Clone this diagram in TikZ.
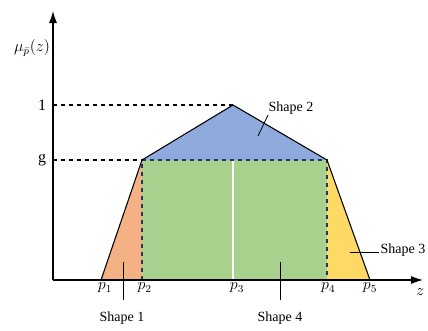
\documentclass[tikz,border=0pt]{standalone}
\usepackage{fontspec}
\setmainfont{Liberation Serif}
\usepackage{amsmath}
\usetikzlibrary{arrows.meta,positioning}
\definecolor{shOne}{HTML}{F4B183}
\definecolor{shTwo}{HTML}{8FAADC}
\definecolor{shThree}{HTML}{FFD966}
\definecolor{shFour}{HTML}{A9D18E}
\definecolor{shEdge}{HTML}{203864}
\tikzset{
  axisline/.style={-{Latex[length=9pt,width=6pt]}, thick, black},
  outline/.style={thick, black, line join=round},
  guide/.style={thick, black, dashed},
  innerguide/.style={thick, shEdge, dashed},
  leader/.style={black, semithick},
  tick/.style={font=\large, inner sep=1pt},
  tag/.style={font=\fontsize{10.5}{12}\selectfont, inner sep=1pt}
}
\begin{document}
\begin{tikzpicture}[x=0.75pt,y=0.75pt]
  \useasboundingbox (0,0) rectangle (428,330);
  % key points
  \coordinate (o) at (53,50);
  \coordinate (p1) at (101,50);
  \coordinate (p2) at (142,50);
  \coordinate (p3) at (233,50);
  \coordinate (p4) at (327,50);
  \coordinate (p5) at (370,50);
  \coordinate (g2) at (142,170);
  \coordinate (g3) at (233,170);
  \coordinate (g4) at (327,170);
  \coordinate (top) at (233,225);
  \coordinate (yg) at (53,170);
  \coordinate (y1) at (53,225);
  % shapes
  \fill[shFour] (p2) rectangle (g4);
  \draw[white, thick] (p3) -- (g3);
  \fill[shTwo] (g2) -- (top) -- (g4) -- cycle;
  \fill[shOne] (p1) -- (g2) -- (p2) -- cycle;
  \fill[shThree] (g4) -- (p5) -- (p4) -- cycle;
  \draw[innerguide] (p2) -- (g2) -- (g4) -- (p4);
  \draw[guide] (y1) -- (top);
  \draw[guide] (yg) -- (g2);
  \draw[outline] (p1) -- (g2) -- (top) -- (g4) -- (p5);
  % axes
  \draw[axisline] (o) -- (53,319);
  \draw[axisline] (o) -- (423,50);
  \node[tick] (mu) at (32,282) {$\mu_{\bar{p}}(z)$};
  \node[tick, left=4pt of y1] (one) {1};
  \node[tick, left=4pt of yg] (gee) {g};
  \node[tick, below=1pt of p1, xshift=3pt] (lp1) {$p_1$};
  \node[tick, below=1pt of p2, xshift=2pt] (lp2) {$p_2$};
  \node[tick, below=1pt of p3, xshift=3pt] (lp3) {$p_3$};
  \node[tick, below=1pt of p4, xshift=1pt] (lp4) {$p_4$};
  \node[tick, below=1pt of p5] (lp5) {$p_5$};
  \node[tick] (lz) at (420,38) {$z$};
  % labels
  \node[tag] (s1) at (122,12) {Shape 1};
  \node[tag] (s2) at (291,222) {Shape 2};
  \node[tag, anchor=west] (s3) at (379,80) {Shape 3};
  \node[tag] (s4) at (280,12) {Shape 4};
  \coordinate (a1) at (123,68);
  \coordinate (b1) at (123,30);
  \coordinate (a2) at (258,194);
  \coordinate (a3) at (350,78);
  \coordinate (a4) at (280,68);
  \coordinate (b4) at (280,30);
  \draw[leader] (a1) -- (b1);
  \draw[leader] (s2.south west) ++(1,1) -- (a2);
  \draw[leader] (a3) -- (s3.west |- a3);
  \draw[leader] (a4) -- (b4);
\end{tikzpicture}
\end{document}
